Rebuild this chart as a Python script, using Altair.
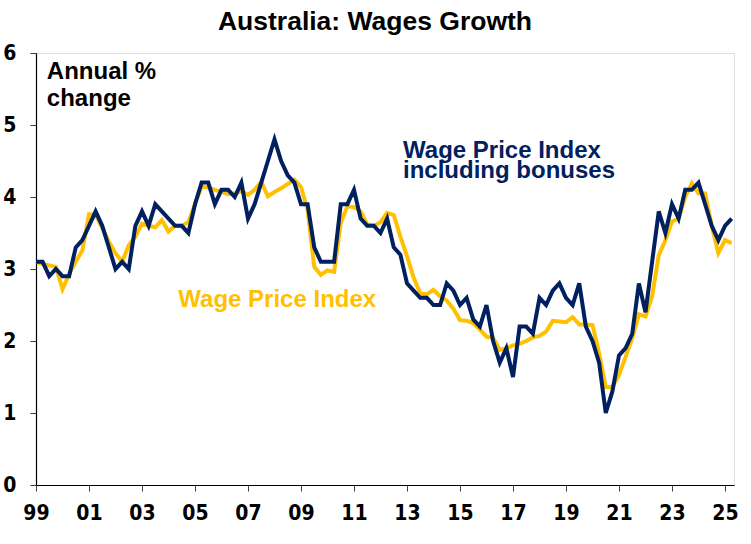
import altair as alt
import pandas as pd

# Quarterly annual % change in the Wage Price Index, Mar-1999 to Jun-2025
quarters = pd.period_range("1999Q1", periods=106, freq="Q")

wpi_incl_bonuses = [
    3.1, 3.1, 2.9, 3.0, 2.9, 2.9, 3.3, 3.4, 3.6, 3.8,
    3.6, 3.3, 3.0, 3.1, 3.0, 3.6, 3.8, 3.6, 3.9, 3.8,
    3.7, 3.6, 3.6, 3.5, 3.9, 4.2, 4.2, 3.9, 4.1, 4.1,
    4.0, 4.2, 3.7, 3.9, 4.2, 4.5, 4.8, 4.5, 4.3, 4.2,
    3.9, 3.9, 3.3, 3.1, 3.1, 3.1, 3.9, 3.9, 4.1, 3.7,
    3.6, 3.6, 3.5, 3.7, 3.3, 3.2, 2.8, 2.7, 2.6, 2.6,
    2.5, 2.5, 2.8, 2.7, 2.5, 2.6, 2.3, 2.2, 2.5, 2.0,
    1.7, 1.9, 1.5, 2.2, 2.2, 2.1, 2.6, 2.5, 2.7, 2.8,
    2.6, 2.5, 2.8, 2.2, 2.0, 1.7, 1.0, 1.3, 1.8, 1.9,
    2.1, 2.8, 2.4, 3.1, 3.8, 3.5, 3.9, 3.7, 4.1, 4.1,
    4.2, 3.9, 3.6, 3.4, 3.6, 3.7,
]

wpi = [
    3.10, 3.07, 3.05, 3.03, 2.72, 2.93, 3.10, 3.26, 3.76, 3.75,
    3.57, 3.38, 3.22, 3.10, 3.33, 3.45, 3.63, 3.60, 3.58, 3.68,
    3.52, 3.60, 3.60, 3.65, 3.90, 4.15, 4.13, 4.10, 4.07, 4.04,
    4.05, 4.08, 4.03, 4.10, 4.21, 4.01, 4.07, 4.12, 4.18, 4.24,
    4.14, 3.82, 3.03, 2.92, 2.98, 2.96, 3.64, 3.87, 3.86, 3.80,
    3.62, 3.60, 3.65, 3.78, 3.75, 3.45, 3.18, 2.88, 2.66, 2.65,
    2.71, 2.62, 2.56, 2.45, 2.29, 2.28, 2.25, 2.16, 2.06, 2.04,
    1.88, 1.90, 1.94, 1.96, 2.00, 2.05, 2.07, 2.13, 2.28, 2.27,
    2.26, 2.33, 2.23, 2.23, 2.22, 1.83, 1.36, 1.36, 1.53, 1.78,
    2.04, 2.37, 2.34, 2.62, 3.19, 3.40, 3.66, 3.70, 4.00, 4.19,
    4.05, 4.05, 3.60, 3.22, 3.40, 3.36,
]

year_ticks = list(range(1999, 2026, 2))
y_ticks = [0, 1, 2, 3, 4, 5, 6]

NAVY = "#002060"
GOLD = "#FFC000"
FONT = "Liberation Sans"
NARROW = "Liberation Sans Narrow, DejaVu Sans Condensed, Arial Narrow, Liberation Sans"

# Decimal year of each quarter (Q1 of a year sits on that year's tick)
t = [q.year + (q.quarter - 1) / 4 for q in quarters]
df = pd.DataFrame({"t": t, "wpi": wpi, "incl": wpi_incl_bonuses})

# Text labels anchored in data units
label_text = ["Annual %", "change", "Wage Price Index", "Wage Price Index", "including bonuses"]
label_t = [1999.41, 1999.41, 2004.37, 2012.85, 2012.85]
label_v = [5.635, 5.268, 2.476, 4.54, 4.262]
label_grp = ["k", "k", "y", "n", "n"]
labels = pd.DataFrame({"text": label_text, "t": label_t, "v": label_v, "grp": label_grp})

x_scale = alt.Scale(domain=[1999, 2025.34], nice=False, zero=False)
y_scale = alt.Scale(domain=[0, 6], nice=False)

x_axis = alt.Axis(
    values=year_ticks,
    labelExpr="substring(toString(datum.value), 2)",
    title=None, grid=False,
    tickSize=6, tickColor="#404040", domainColor="black", domainWidth=1.2,
    labelPadding=11, labelFont=NARROW, labelFontSize=21, labelFontWeight="bold",
    labelColor="black", labelFlush=False,
)
y_axis = alt.Axis(
    values=y_ticks, format="d", title=None, grid=False,
    tickSize=6, tickColor="#404040", domainColor="black", domainWidth=1.2,
    labelPadding=14, labelFont=NARROW, labelFontSize=21, labelFontWeight="bold",
    labelColor="black",
)

base = alt.Chart(df)

line_wpi = base.mark_line(color=GOLD, strokeWidth=4).encode(
    x=alt.X("t:Q", scale=x_scale, axis=x_axis),
    y=alt.Y("wpi:Q", scale=y_scale, axis=y_axis),
)
line_incl = base.mark_line(color=NAVY, strokeWidth=4).encode(
    x=alt.X("t:Q", scale=x_scale),
    y=alt.Y("incl:Q", scale=y_scale),
)

text = alt.Chart(labels).mark_text(
    align="left", baseline="alphabetic", font=FONT, fontSize=24, fontWeight="bold"
).encode(
    x=alt.X("t:Q", scale=x_scale),
    y=alt.Y("v:Q", scale=y_scale),
    text="text:N",
    color=alt.Color(
        "grp:N",
        scale=alt.Scale(domain=["k", "y", "n"], range=["black", GOLD, NAVY]),
        legend=None,
    ),
)

chart = (
    alt.layer(line_wpi, line_incl, text)
    .properties(
        width=698,
        height=432,
        autosize=alt.AutoSizeParams(type="none"),
        padding={"left": 36, "top": 53, "right": 17, "bottom": 59},
        title=alt.TitleParams(
            "Australia: Wages Growth",
            font=FONT, fontSize=26.5, fontWeight="bold", color="black",
            anchor="middle", orient="top", frame="group", offset=7, dx=-10,
        ),
    )
    .configure_view(stroke="#808080", strokeWidth=1)
    .configure(background="white")
)

chart.save("out.html", embed_options={"renderer": "svg", "actions": False})
